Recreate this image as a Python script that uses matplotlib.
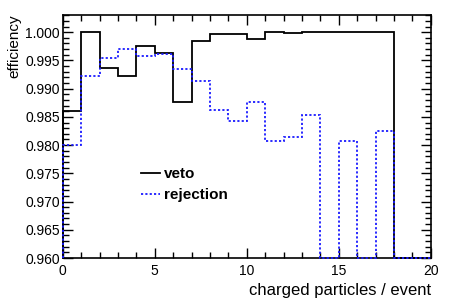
import numpy as np
import matplotlib
matplotlib.use("Agg")
import matplotlib.pyplot as plt
from matplotlib.ticker import MultipleLocator

plt.rcParams['font.family'] = ['Liberation Sans', 'DejaVu Sans']

# bin edges: charged particles / event, unit-width bins 0..20
edges = np.arange(0, 21)
veto = [0.9861, 1.0000, 0.9936, 0.9922, 0.9975, 0.9964, 0.9877, 0.9985,
        0.9997, 0.9997, 0.9988, 1.0000, 0.9999, 1.0000, 1.0000, 1.0000,
        1.0000, 1.0000, 0.0, 0.0]
rejection = [0.9800, 0.9922, 0.9955, 0.9971, 0.9958, 0.9961, 0.9934, 0.9914,
             0.9863, 0.9843, 0.9876, 0.9808, 0.9815, 0.9854, 0.0, 0.9808,
             0.0, 0.9825, 0.0, 0.0]
labels = ["veto", "rejection"]

ylo, yhi = 0.960, 1.0031

fig = plt.figure(figsize=(4.54, 3.08), dpi=100)
ax = fig.add_axes([62.7 / 454, 1 - 258 / 308, (430.7 - 62.7) / 454, (258 - 14.7) / 308])

# empty bins sit on the frame bottom, like ROOT draws them
ax.stairs(np.clip(veto, ylo, None), edges, baseline=ylo, color="black",
          lw=1.3, zorder=3, clip_on=False, label=labels[0])
ax.stairs(np.clip(rejection, ylo, None), edges, baseline=ylo, color="#1a1aff",
          lw=1.3, ls=(0, (1.2, 1.2)), zorder=4, clip_on=False, label=labels[1])

ax.set_xlim(0, 20)
ax.set_ylim(ylo, yhi)
ax.xaxis.set_major_locator(MultipleLocator(5))
ax.xaxis.set_minor_locator(MultipleLocator(1))
ax.yaxis.set_major_locator(MultipleLocator(0.005))
ax.yaxis.set_minor_locator(MultipleLocator(0.001))
ax.yaxis.set_major_formatter(plt.FormatStrFormatter("%.3f"))
ax.tick_params(which="both", direction="in", top=True, right=True, width=1.0,
               labelsize=10, colors="black")
ax.tick_params(axis="x", pad=4)
ax.tick_params(axis="y", pad=2)
ax.tick_params(which="major", length=7)
ax.tick_params(which="minor", length=4)
for s in ax.spines.values():
    s.set_linewidth(1.2)

ax.set_xlabel("charged particles / event", fontsize=12, loc="right", labelpad=4)
ax.set_ylabel("efficiency", fontsize=11, loc="top", labelpad=3)

ax.legend(loc="upper left", bbox_to_anchor=(0.213, 0.372), frameon=False,
          prop={"weight": "bold", "size": 11}, handlelength=1.25,
          handletextpad=0.25, labelspacing=0.42, borderaxespad=0,
          borderpad=0)

fig.savefig("out.png", dpi=100)
